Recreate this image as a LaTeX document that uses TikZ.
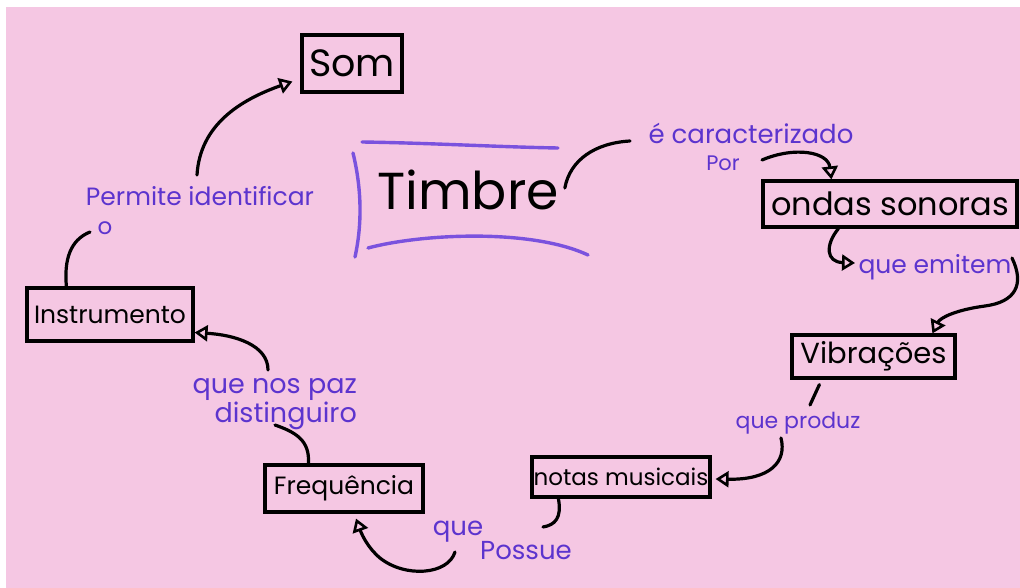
\documentclass[tikz,border=0pt]{standalone}
\usepackage{fontspec}
\setmainfont{Poppins}
\usetikzlibrary{arrows.meta,calc}
\definecolor{paper}{RGB}{245,199,227}
\definecolor{ink}{RGB}{92,52,206}
\definecolor{lightink}{RGB}{122,82,222}
\newcommand{\fs}[1]{\fontsize{#1}{#1}\selectfont}
\begin{document}
\begin{tikzpicture}[x=1pt,y=-1pt,
  concept/.style={draw=black, line width=3.2pt, inner sep=0pt, text=black},
  lbl/.style={text=ink, inner sep=0pt, align=center},
  conn/.style={draw=black, line width=3.2pt, line cap=round},
  arr/.style={conn, -{Triangle[open,length=13pt,width=16pt,line width=2.6pt]}},
  deco/.style={draw=lightink, line width=3.4pt, line cap=round}]
\fill[white] (0,0) rectangle (1020,588);
\fill[paper] (6,7) rectangle (1020,588);
\useasboundingbox (0,0) rectangle (1020,588);

% concept boxes
\node[concept, minimum width=100pt, minimum height=57pt, font=\fs{38}] (som) at (352,63.5) {Som};
\node[concept, minimum width=254pt, minimum height=46pt, font=\fs{32}] (ondas) at (890,204) {ondas sonoras};
\node[concept, minimum width=163pt, minimum height=43pt, font=\fs{29}] (vib) at (873.5,356.5) {Vibrações};
\node[concept, minimum width=178pt, minimum height=40pt, font=\fs{23}] (notas) at (621,477) {notas musicais};
\node[concept, minimum width=158pt, minimum height=47pt, font=\fs{25}] (freq) at (344,488.5) {Frequência};
\node[concept, minimum width=166pt, minimum height=53pt, font=\fs{25}] (instr) at (110,314.5) {Instrumento};

% central concept
\node[text=black, inner sep=0pt, font=\fs{52}] (timbre) at (468,190) {Timbre};
\draw[deco] (362,142) .. controls (430,143) and (500,147) .. (558,148);
\draw[deco] (353,153) .. controls (362,190) and (362,225) .. (355,257);
\draw[deco] (368,248) .. controls (420,234) and (530,228) .. (588,255);

% linking labels
\node[lbl, font=\fs{26}] (caract) at (751,133) {é caracterizado};
\node[lbl, font=\fs{21}] (por) at (723,163) {Por};
\node[lbl, font=\fs{25}] (emit) at (935,267) {que emitem};
\node[lbl, font=\fs{22}] (produz) at (798,423) {que produz};
\node[lbl, font=\fs{26}] (que) at (458,532) {que};
\node[lbl, font=\fs{26}] (possue) at (526,551) {Possue};
\node[lbl, font=\fs{27}, align=right, anchor=east] (distin) at (357,404) {que nos paz\\distinguiro};
\node[lbl, font=\fs{23}] (o) at (105,228) {o};
\node[lbl, font=\fs{25}] (permite) at (200,196) {Permite identificar};

% free ends of connectors
\coordinate (c1e) at (630,141);
\coordinate (c2s) at (762,160);
\coordinate (c3e) at (855,263);
\coordinate (c4s) at (1012,258);
\coordinate (c5e) at (810,405);
\coordinate (c6s) at (781,438);
\coordinate (c7e) at (543,527);
\coordinate (c8s) at (455,552);
\coordinate (c9e) at (275,425);
\coordinate (c10s) at (268,370);
\coordinate (c11e) at (90,232);
\coordinate (c12s) at (197,175);

% connectors
\draw[conn] ($(timbre.east)+(6,-2)$) .. controls (570,160) and (595,143) .. (c1e);
\draw[arr] (c2s) .. controls (795,146) and (828,152) .. ($(ondas.north west)+(70,0)$);
\draw[arr] ($(ondas.south west)+(77,0)$) .. controls (825,245) and (826,262) .. (c3e);
\draw[arr] (c4s) .. controls (1025,285) and (1015,302) .. (985,306) .. controls (955,310) and (940,318) .. ($(vib.north west)+(142,0)$);
\draw[conn] ($(vib.south west)+(29,5)$) -- (c5e);
\draw[arr] (c6s) .. controls (787,462) and (770,480) .. ($(notas.east)+(4,2)$);
\draw[conn] ($(notas.south west)+(28,0)$) .. controls (562,518) and (555,525) .. (c7e);
\draw[arr] (c8s) .. controls (448,575) and (405,578) .. (380,558) .. controls (368,548) and (362,535) .. ($(freq.south)+(12,5)$);
\draw[conn] ($(freq.north west)+(45,0)$) .. controls (310,440) and (295,432) .. (c9e);
\draw[arr] (c10s) .. controls (268,345) and (235,335) .. ($(instr.east)+(0,18)$);
\draw[conn] ($(instr.north west)+(41,0)$) .. controls (64,260) and (70,240) .. (c11e);
\draw[arr] (c12s) .. controls (200,125) and (240,100) .. ($(som.west)+(-8,18)$);
\end{tikzpicture}
\end{document}
